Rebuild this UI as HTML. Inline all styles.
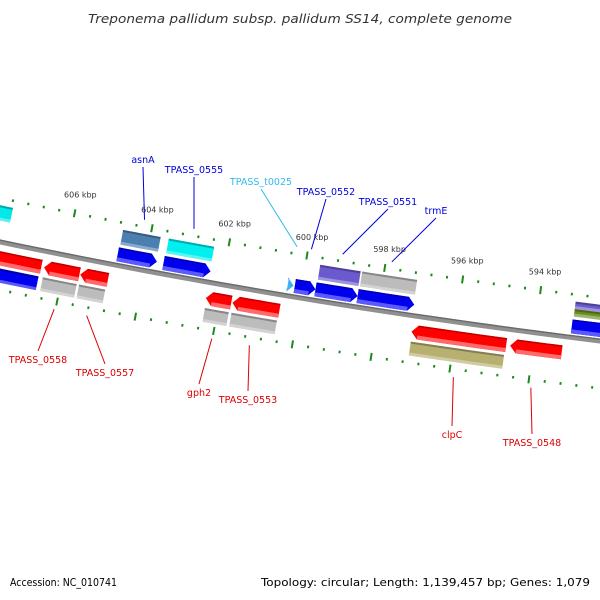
<!DOCTYPE html>
<html><head><meta charset="utf-8"><style>
html,body{margin:0;padding:0;background:#fff;}
svg{display:block;font-family:"DejaVu Sans","Liberation Sans",sans-serif;}
</style></head><body>
<svg id="map" width="600" height="600" viewBox="0 0 600 600" xmlns="http://www.w3.org/2000/svg">
<rect width="600" height="600" fill="#fff"/>
<text x="300" y="23" text-anchor="middle" font-size="12.5" font-style="italic" fill="#333" textLength="424" lengthAdjust="spacingAndGlyphs">Treponema pallidum subsp. pallidum SS14, complete genome</text>
<g id="ticks"></g>
<g id="backbone"></g>
<g id="feats"></g>
<g id="labels"></g>
<text x="10" y="586" font-size="11" fill="#000" textLength="107" lengthAdjust="spacingAndGlyphs">Accession: NC_010741</text>
<text x="590" y="586" text-anchor="end" font-size="11" fill="#000" textLength="329" lengthAdjust="spacingAndGlyphs">Topology: circular; Length: 1,139,457 bp; Genes: 1,079</text>
</svg>
<script>
// ---- data ----
const featNames  = ["cyan-frag","asnA","TPASS_0555","TPASS_t0025","TPASS_0552","TPASS_0551","trmE","right-gene","left-rev","TPASS_0558","TPASS_0557","gph2","TPASS_0553","clpC","TPASS_0548"];
const featStart  = [608.2, 604.73, 603.55, 600.36, 600.18, 599.65, 598.57, 593.10, 608.4, 606.49, 605.56, 602.34, 601.66, 597.09, 594.58];
const featEnd    = [607.54, 603.72, 602.34, 600.21, 599.65, 598.57, 597.12, 592.0, 606.56, 605.58, 604.85, 601.69, 600.46, 594.68, 593.27];
const featStrand = [1, 1, 1, 1, 1, 1, 1, 1, -1, -1, -1, -1, -1, -1, -1];
const featGene   = [0, 1, 1, 1, 1, 1, 1, 1, 1, 1, 1, 1, 1, 1, 1];
const featCog    = ["#00e8e8","#4a7fb0","#00f0f0",null,null,"#6a5acd","#bcbcbc","#6a5acd|#6b8e23","#0000ee","#bcbcbc","#bcbcbc","#bcbcbc","#bcbcbc","#b8b070",null];
const labelNames = ["asnA","TPASS_0555","TPASS_t0025","TPASS_0552","TPASS_0551","trmE","TPASS_0558","TPASS_0557","gph2","TPASS_0553","clpC","TPASS_0548"];
const labelFeat  = [1,2,3,4,5,6,9,10,11,12,13,14];
const tickLabels = [606,604,602,600,598,596,594];

// ---- geometry ----
const cx=1472.9, cy=-6816.8, R=7210.8, pxPerKbp=39.6;
const a604=Math.acos((144-cx)/R);
function ang(k){return a604+(k-604)*pxPerKbp/R;}
function pt(k,d){const a=ang(k);return [cx+(R+d)*Math.cos(a), cy+(R+d)*Math.sin(a)];}
const NS="http://www.w3.org/2000/svg";
function mk(tag,attrs,parent){const e=document.createElementNS(NS,tag);for(const k in attrs)e.setAttribute(k,attrs[k]);parent.appendChild(e);return e;}
function arcPts(k1,k2,d,n){const r=[];for(let i=0;i<=n;i++){r.push(pt(k1+(k2-k1)*i/n,d));}return r;}
function P(list){return list.map(p=>p[0].toFixed(2)+","+p[1].toFixed(2)).join(" ");}

// backbone
const bb=document.getElementById('backbone');
const bpath=arcPts(612,588,0,60);
let e=mk('polyline',{points:P(bpath),fill:'none',stroke:'#909090','stroke-width':5},bb);


e=mk('polyline',{points:P(arcPts(612,588,-1.8,60)),fill:'none',stroke:'#6a6a6a','stroke-width':1.4},bb);



// ticks
const tg=document.getElementById('ticks');
for(let i=0;i<=45;i++){
  const k=Math.round((591.6+i*0.4)*10)/10;
  const major=Math.abs(k/2-Math.round(k/2))<0.01;
  [[-43],[47]].forEach(([d])=>{
    if(major){
      const a=pt(k,d-4),b=pt(k,d+4);
      e=mk('line',{x1:a[0],y1:a[1],x2:b[0],y2:b[1],stroke:'#1a8a1a','stroke-width':2},tg);
      
      
    }else{
      const a=pt(k,d-1.3),b=pt(k,d+1.3);
      e=mk('line',{x1:a[0],y1:a[1],x2:b[0],y2:b[1],stroke:'#1a8a1a','stroke-width':2},tg);
      
      
    }
  });
}
tickLabels.forEach(k=>{
  const p=pt(k,-62);
  e=mk('text',{x:p[0]+2,y:p[1]+3,'font-size':8,'text-anchor':'middle',fill:'#333'},tg);
  e.textContent=k+" kbp";
  
  
});

// features
const fg=document.getElementById('feats');
function lighten(c){const m={"#0000ee":"#5a5aff","#ff0000":"#ff6a6a"};return m[c]||c;}
function band(k1,k2,d1,d2,fill){return mk('polygon',{points:P(arcPts(k1,k2,d1,6).concat(arcPts(k2,k1,d2,6))),fill:fill},fg);}
function arrow(k1,k2,d1,d2,strand,col,name){
  const head=0.16, dm=(d1+d2)/2;
  let pts;
  if(strand>0){ // point to decreasing kbp (right)
    const kb=k2+head;
    pts=arcPts(k1,kb,d1,6).concat([pt(k2,dm)]).concat(arcPts(kb,k1,d2,6));
  }else{
    const kb=k1-head;
    pts=[pt(k1,dm)].concat(arcPts(kb,k2,d1,6)).concat(arcPts(k2,kb,d2,6));
  }
  e=mk('polygon',{points:P(pts),fill:col},fg);
  
  
  // lighter bottom strip
  const s1=Math.max(k2,strand>0?k2+head:k2), s2=Math.min(k1,strand<0?k1-head:k1);
  e=band(s1>s2?s2:s2,s1,d2-4,d2,lighten(col));
  e.setAttribute('points',P(arcPts(s2,s1,d2-4,6).concat(arcPts(s1,s2,d2,6))));
  
  
  e=band(s2,s1,d1,d1+1.5,strand>0?'#0000b0':'#c00000');
  
  
}
function cog(k1,k2,d1,d2,col,name){
  e=band(k1,k2,d1,d2,col);
  
  
  e=band(k1,k2,d1,d1+2,'rgba(0,0,0,0.28)');
  
  
  e=band(k1,k2,d2-3,d2,'rgba(255,255,255,0.35)');
  
  
}
for(let i=0;i<featNames.length;i++){
  const s=featStrand[i], k1=featStart[i], k2=featEnd[i];
  if(featGene[i]){
    const col = s>0 ? (featNames[i]==="TPASS_t0025"?"#3ab4f0":"#0000ee") : "#ff0000";
    if(s>0) arrow(k1,k2,-18,-4,s,col,featNames[i]);
    else arrow(k1,k2,9,23,s,col,featNames[i]);
  }
  const c=featCog[i];
  if(c){
    const cols=c.split("|");
    const d1 = s>0 ? -36 : 26, d2 = s>0 ? -21 : 40;
    const h=(d2-d1)/cols.length;
    cols.forEach((cc,j)=>cog(k1-0.02,k2+0.02,d1+j*h,d1+(j+1)*h,cc,featNames[i]));
  }
}

// labels
const lg=document.getElementById('labels');
const labelPos=[[143,163],[194,173],[261,185],[326,195],[388,205],[436,214],[38,363],[105,376],[199,396],[248,403],[452,438],[532,446]];
labelNames.forEach((n,i)=>{
  const f=labelFeat[i], s=featStrand[f];
  const km=(featStart[f]+featEnd[f])/2;
  const a=pt(km, s>0?-50:55);
  const lp=labelPos[i];
  const col = s>0 ? (n==="TPASS_t0025"?"#33bbee":"#0000dd") : "#dd0000";
  const ly = s>0 ? lp[1]+4 : lp[1]-12;
  e=mk('line',{x1:a[0],y1:a[1],x2:lp[0],y2:ly,stroke:col,'stroke-width':1},lg);
  
  
  e=mk('text',{x:lp[0],y:lp[1],'font-size':9.5,'text-anchor':'middle',fill:col},lg);
  e.textContent=n;
  
  
});
</script>
</body></html>
